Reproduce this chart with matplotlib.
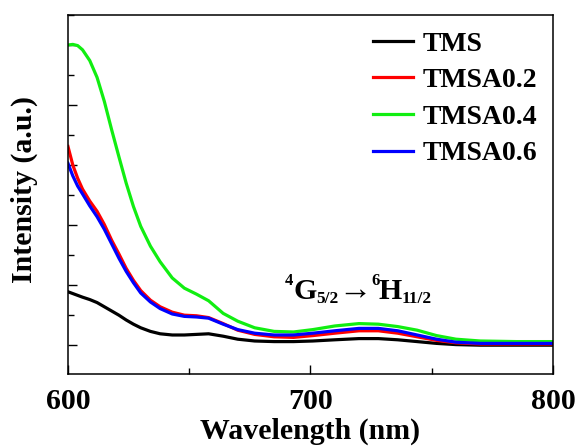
import matplotlib
matplotlib.use('Agg')
import matplotlib.pyplot as plt
from matplotlib.ticker import MultipleLocator

# ======================
# DATA
# ======================
wavelength = [600, 602, 604, 606, 609, 612, 615, 618, 621, 624, 627, 630, 634, 638, 643,
              648, 653, 658, 664, 670, 677, 685, 693, 701, 710, 720, 728, 736, 744,
              752, 760, 770, 785, 800]

tms = [0.89, 0.86, 0.83, 0.80, 0.76, 0.71, 0.64, 0.57, 0.50, 0.42, 0.35, 0.29, 0.23, 0.19, 0.17,
       0.17, 0.18, 0.19, 0.15, 0.10, 0.07, 0.06, 0.06, 0.07, 0.09, 0.11, 0.11, 0.09, 0.06,
       0.03, 0.01, 0.00, 0.00, 0.00]

tmsa02 = [3.31, 3.00, 2.78, 2.60, 2.40, 2.23, 2.01, 1.75, 1.52, 1.28, 1.08, 0.91, 0.75, 0.64, 0.55,
          0.50, 0.49, 0.46, 0.36, 0.25, 0.18, 0.14, 0.13, 0.16, 0.20, 0.24, 0.24, 0.20, 0.14,
          0.08, 0.04, 0.02, 0.02, 0.02]

tmsa04 = [5.00, 5.01, 4.99, 4.92, 4.74, 4.46, 4.06, 3.59, 3.14, 2.70, 2.31, 1.98, 1.65, 1.39, 1.12,
          0.95, 0.85, 0.74, 0.53, 0.40, 0.29, 0.23, 0.22, 0.26, 0.32, 0.36, 0.35, 0.31, 0.25,
          0.16, 0.10, 0.07, 0.06, 0.06]

tmsa06 = [3.03, 2.82, 2.65, 2.52, 2.32, 2.14, 1.93, 1.69, 1.45, 1.23, 1.04, 0.87, 0.72, 0.61, 0.52,
          0.48, 0.47, 0.45, 0.35, 0.26, 0.20, 0.17, 0.17, 0.20, 0.24, 0.28, 0.28, 0.24, 0.17,
          0.10, 0.05, 0.03, 0.03, 0.03]

# transition label pieces: (text, font size, vertical offset in pt, horizontal gap in pt)
label_parts = [('4', 12, 0, 0), ('G', 21.5, -7.4, 0), ('5/2', 12.5, 1.6, 0),
               ('\u2192', 24, 5.9, -0.5), ('6', 12, 15.2, 0), ('H', 21.5, -7.4, -1),
               ('11/2', 12.5, 1.6, 0)]

# ======================
# STYLE
# ======================
plt.rcParams['font.family'] = ['Liberation Serif', 'DejaVu Serif']
plt.rcParams['font.weight'] = 'bold'

fig = plt.figure(figsize=(5.76, 4.46), dpi=100)
ax = fig.add_axes([0.118, 0.1614, 0.842, 0.805])

lw = 2.3
ax.plot(wavelength, tms, color='black', lw=lw, label='TMS')
ax.plot(wavelength, tmsa02, color='#ff0000', lw=lw, label='TMSA0.2')
ax.plot(wavelength, tmsa04, color='#11ee11', lw=lw, label='TMSA0.4')
ax.plot(wavelength, tmsa06, color='#0000ff', lw=lw, label='TMSA0.6')

ax.set_xlim(600, 800)
ax.set_ylim(-0.48, 5.5)
ax.xaxis.set_major_locator(MultipleLocator(100))
ax.xaxis.set_minor_locator(MultipleLocator(50))
ax.yaxis.set_major_locator(MultipleLocator(1))
ax.yaxis.set_minor_locator(MultipleLocator(0.5))
ax.tick_params(which='both', direction='in', width=1)
ax.tick_params(which='major', length=6.5)
ax.tick_params(which='minor', length=4)
ax.tick_params(axis='x', labelsize=21.5, pad=10)
ax.tick_params(axis='y', labelleft=False)
for sp in ax.spines.values():
    sp.set_linewidth(1.1)

ax.set_xlabel('Wavelength (nm)', fontsize=21.5, fontweight='bold', labelpad=2)
ax.set_ylabel('Intensity (a.u.)', fontsize=21.5, fontweight='bold')
ax.yaxis.set_label_coords(-0.062, 0.515)

# ======================
# TRANSITION LABEL (chained text pieces)
# ======================
prev = None
for txt, size, dy, dx in label_parts:
    if prev is None:
        prev = ax.text(0.4474, 0.248, txt, transform=ax.transAxes, fontsize=size,
                       fontweight='bold', ha='left', va='baseline')
    else:
        prev = ax.annotate(txt, xy=(1, 0), xycoords=prev, xytext=(dx, dy),
                           textcoords='offset points', fontsize=size, fontweight='bold',
                           ha='left', va='baseline')

ax.legend(loc='upper left', bbox_to_anchor=(0.629, 0.955), frameon=False,
          handlelength=1.45, handletextpad=0.32, labelspacing=0.4, borderpad=0,
          borderaxespad=0, prop={'weight': 'bold', 'size': 20})

plt.savefig('out.png', dpi=100)
